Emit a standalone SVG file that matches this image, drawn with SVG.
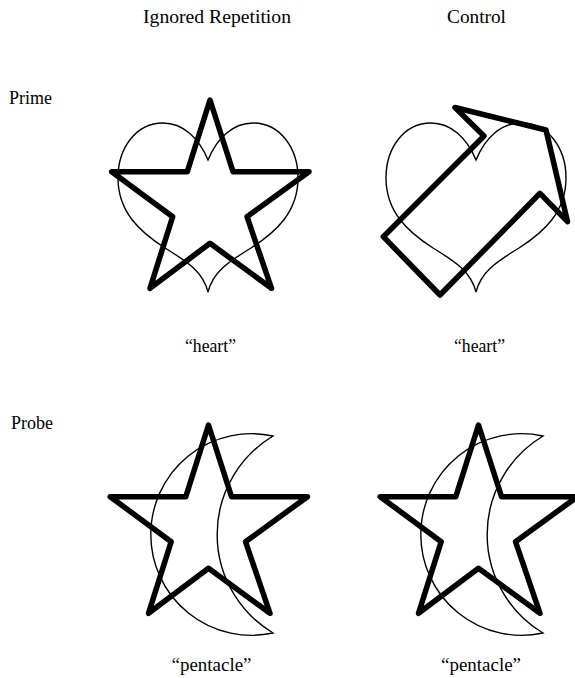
<svg xmlns="http://www.w3.org/2000/svg" width="575" height="678" viewBox="0 0 575 678">
<style>
  text { font-family: "Liberation Serif", "DejaVu Serif", serif; font-size: 18px; fill: #000; }
  .mid { text-anchor: middle; }
  .thin { fill: none; stroke: #000; stroke-width: 1.4; stroke-linejoin: miter; }
  .thick { fill: none; stroke: #000; stroke-width: 5.5; stroke-linejoin: round; stroke-linecap: round; }
</style>
<defs>
  <path id="heart" d="M208,160 C199,138 183,123 163,123 C136,123 118,148 118,178 C118,212 140,232 165,248 C188,262 203,272 208,292 C213,272 228,262 251,248 C276,232 298,212 298,178 C298,148 280,123 253,123 C233,123 217,138 208,160 Z"/>
  <path id="star" d="M210,100 L233,171.7 L309,171.7 L247,216.7 L271.5,288.3 L210,243.3 L150,288.3 L172.7,216.7 L111.7,171.7 L187.3,171.7 Z"/>
  <path id="moon" d="M273,436 A100.8,100.8 0 1 0 273,633 A114.8,114.8 0 0 1 273,436 Z"/>
</defs>

<g id="labels">
  <text x="143" y="23" textLength="148" lengthAdjust="spacingAndGlyphs">Ignored Repetition</text>
  <text x="447" y="23" textLength="59" lengthAdjust="spacingAndGlyphs">Control</text>
  <text x="9" y="104" textLength="43" lengthAdjust="spacingAndGlyphs">Prime</text>
  <text x="11" y="429" textLength="42" lengthAdjust="spacingAndGlyphs">Probe</text>
</g>

<g id="prime-ignored">
  <use href="#heart" class="thin"/>
  <use href="#star" class="thick"/>
  <text x="185" y="352" textLength="51" lengthAdjust="spacingAndGlyphs">“heart”</text>
</g>

<g id="prime-control">
  <use href="#heart" class="thin" transform="translate(268,0)"/>
  <path class="thick" d="M540,193.3 L440,295 L383.3,236.7 L484,136 L455,107.5 L546,130 L567.5,221.7 Z"/>
  <text x="454" y="352" textLength="51" lengthAdjust="spacingAndGlyphs">“heart”</text>
</g>

<g id="probe-ignored">
  <use href="#moon" class="thin"/>
  <use href="#star" class="thick" transform="translate(-1.5,325)"/>
  <text x="171.5" y="671" textLength="80" lengthAdjust="spacingAndGlyphs">“pentacle”</text>
</g>

<g id="probe-control">
  <use href="#moon" class="thin" transform="translate(270,0)"/>
  <use href="#star" class="thick" transform="translate(268.5,325)"/>
  <text x="441" y="671" textLength="80" lengthAdjust="spacingAndGlyphs">“pentacle”</text>
</g>

<g id="connectors"></g>
</svg>
